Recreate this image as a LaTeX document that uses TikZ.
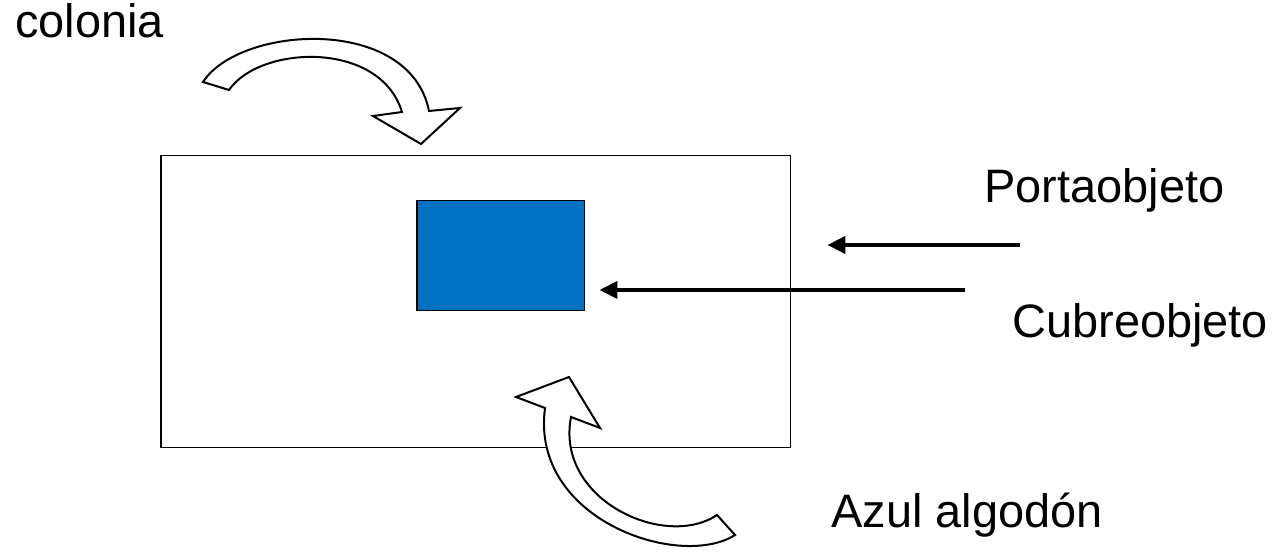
\documentclass[tikz,border=0pt]{standalone}
\usepackage{fontspec}
\setmainfont{Liberation Sans}
\usepackage{tikz}
\usetikzlibrary{arrows.meta,positioning,calc}
\definecolor{cubre}{HTML}{0070C0}

\tikzset{
  lbl/.style={anchor=base west, inner sep=0pt, font=\fontsize{26.7}{32}\selectfont},
  pointer/.style={line width=0.08cm, -{Triangle[length=0.36cm,width=0.34cm]}},
  blockarrow/.style={draw=black, fill=white, line width=0.04cm, line join=miter}
}

\begin{document}
\begin{tikzpicture}[x=0.02cm, y=-0.02cm]
  \useasboundingbox (0,0) rectangle (1284,553);
  % portaobjeto y cubreobjeto
  \node[draw, line width=0.03cm, minimum width=12.6cm, minimum height=5.84cm, anchor=north west, inner sep=0pt] (porta) at (160,155) {};
  \node[draw, fill=cubre, line width=0.03cm, minimum width=3.36cm, minimum height=2.2cm, anchor=north west, inner sep=0pt] (cubre) at (416,200) {};

  % textos
  \node[lbl] (colonia) at (15,38) {colonia};
  \node[lbl] (tporta) at (984,203) {Portaobjeto};
  \node[lbl] (tcubre) at (1012,338) {Cubreobjeto};
  \node[lbl] (tazul) at (831,527) {Azul algodón};

  % flechas rectas
  \coordinate (p1) at (1020,245);
  \coordinate (p2) at (965,290);
  \draw[pointer] (p1) -- ($(porta.east |- p1)+(36,0)$);
  \draw[pointer] (p2) -- ($(cubre.east |- p2)+(14,0)$);

  % flecha curva superior
  \draw[blockarrow] (203,82) .. controls (240,25) and (410,15) .. (429,111)
    -- (460,108) -- (421,144) -- (373,116) -- (402,112)
    .. controls (380,40) and (260,45) .. (229,90) -- cycle;

  % flecha curva inferior
  \draw[blockarrow] (735,535) .. controls (680,570) and (530,520) .. (545,408)
    -- (516,397) -- (569,377) -- (600,428) -- (571,417)
    .. controls (555,500) and (665,550) .. (717,515) -- cycle;
\end{tikzpicture}
\end{document}
